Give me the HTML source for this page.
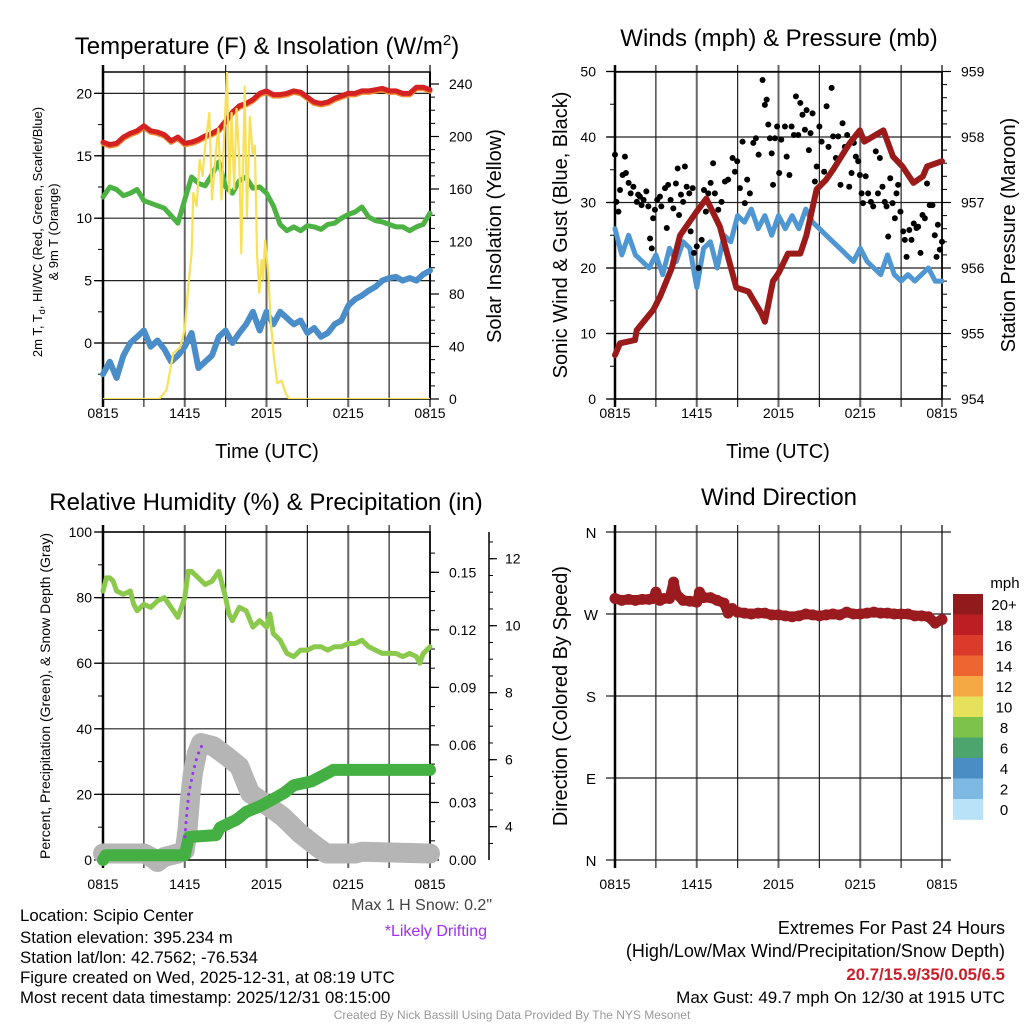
<!DOCTYPE html>
<html><head><meta charset="utf-8">
<style>
body{margin:0;background:#fff;}
svg{display:block;font-family:"Liberation Sans",Arial,sans-serif;}
</style></head>
<body>
<svg id="c" width="1024" height="1024" viewBox="0 0 1024 1024" xmlns="http://www.w3.org/2000/svg">
<defs>
<clipPath id="clip1"><rect x="103" y="72" width="327" height="327"/></clipPath>
</defs>
<text x="267" y="54" font-size="24" text-anchor="middle">Temperature (F) &amp; Insolation (W/m<tspan dy="-9" font-size="15">2</tspan><tspan dy="9">)</tspan></text>
<text x="779" y="46" font-size="24" text-anchor="middle">Winds (mph) &amp; Pressure (mb)</text>
<text x="266" y="510" font-size="24" text-anchor="middle">Relative Humidity (%) &amp; Precipitation (in)</text>
<text x="779" y="505" font-size="24" text-anchor="middle">Wind Direction</text>

<text transform="translate(42,232) rotate(-90)" font-size="13" text-anchor="middle">2m T, T<tspan font-size="9" dy="3">d</tspan><tspan dy="-3">, HI/WC (Red, Green, Scarlet/Blue)</tspan></text>
<text transform="translate(58,232) rotate(-90)" font-size="13" text-anchor="middle">&amp; 9m T (Orange)</text>
<text transform="translate(501,236) rotate(-90)" font-size="20" text-anchor="middle">Solar Insolation (Yellow)</text>
<text x="267" y="458" font-size="20" text-anchor="middle">Time (UTC)</text>

<text transform="translate(567,235) rotate(-90)" font-size="20" text-anchor="middle">Sonic Wind &amp; Gust (Blue, Black)</text>
<text transform="translate(1015,235) rotate(-90)" font-size="20" text-anchor="middle">Station Pressure (Maroon)</text>
<text x="778" y="458" font-size="20" text-anchor="middle">Time (UTC)</text>

<text transform="translate(50,696) rotate(-90)" font-size="14" text-anchor="middle">Percent, Precipitation (Green), &amp; Snow Depth (Gray)</text>
<text transform="translate(567,696) rotate(-90)" font-size="20" text-anchor="middle">Direction (Colored By Speed)</text>

<g font-size="16.8">
<text x="20" y="921">Location: Scipio Center</text>
<text x="20" y="943">Station elevation: 395.234 m</text>
<text x="20" y="963">Station lat/lon: 42.7562; -76.534</text>
<text x="20" y="983">Figure created on Wed, 2025-12-31, at 08:19 UTC</text>
<text x="20" y="1003">Most recent data timestamp: 2025/12/31 08:15:00</text>
</g>
<text x="492" y="910" font-size="16" fill="#444" text-anchor="end">Max 1 H Snow: 0.2"</text>
<text x="487" y="936" font-size="16" fill="#a030f0" text-anchor="end">*Likely Drifting</text>
<g text-anchor="end">
<text x="1005" y="934" font-size="18">Extremes For Past 24 Hours</text>
<text x="1005" y="957" font-size="18">(High/Low/Max Wind/Precipitation/Snow Depth)</text>
<text x="1005" y="980" font-size="16.8" fill="#c8202a" font-weight="bold">20.7/15.9/35/0.05/6.5</text>
<text x="1005" y="1003" font-size="17">Max Gust: 49.7 mph On 12/30 at 1915 UTC</text>
</g>
<text x="512" y="1019" font-size="12" fill="#999" text-anchor="middle">Created By Nick Bassill Using Data Provided By The NYS Mesonet</text>
<g id="layer"></g>
</svg>
<script>
// ===== Temperature panel data (hours since 0815 UTC) =====
const tHours = [0,0.5,1,1.5,2,2.5,3,3.5,4,4.5,5,5.5,6,6.5,7,7.5,8,8.5,9,9.5,10,10.5,11,11.5,12,12.5,13,13.5,14,14.5,15,15.5,16,16.5,17,17.5,18,18.5,19,19.5,20,20.5,21,21.5,22,22.5,23,23.5,24];
const tempRed = [16.1,15.9,16.0,16.5,16.8,17.0,17.4,17.0,16.9,16.7,16.2,16.5,16.0,16.1,16.3,16.6,16.8,17.1,17.8,18.5,19.0,19.2,19.5,20.0,20.2,19.9,19.9,20.0,20.2,20.1,19.7,19.3,19.2,19.3,19.6,19.8,20.0,20.0,20.2,20.2,20.3,20.4,20.2,20.2,20.0,20.0,20.5,20.5,20.3];
const tempGreen = [11.7,12.5,12.3,11.8,12.0,12.3,11.4,11.2,11.0,10.8,10.2,9.6,11.5,13.3,12.8,12.6,13.5,14.5,12.5,12.0,13.0,13.3,12.4,12.5,12.0,11.0,9.5,9.0,9.3,9.0,9.4,9.3,9.1,9.5,9.6,10.0,10.3,10.5,10.9,10.1,9.8,9.7,9.5,9.3,9.3,9.0,9.3,9.5,10.4];
const tempBlue = [-2.5,-1.5,-2.8,-1.0,0.0,0.5,1.0,-0.3,0.2,-0.5,-1.5,-1.0,-0.3,0.8,-2.0,-1.5,-1.0,0.5,1.0,0.0,0.8,1.5,2.5,1.0,2.5,1.5,2.5,2.0,1.5,1.8,0.8,1.2,0.5,0.8,1.5,1.8,3.0,3.5,3.8,4.2,4.5,5.0,5.2,5.3,5.0,5.2,5.0,5.5,5.8];
const solHours = [0,4.13,4.67,5.16,5.65,6.0,6.26,6.5,6.63,6.87,7.1,7.3,7.5,7.8,8.0,8.3,8.46,8.7,8.95,9.1,9.27,9.44,9.63,9.8,10.0,10.15,10.4,10.56,10.78,10.98,11.15,11.3,11.47,11.64,11.76,11.9,12.13,12.3,12.54,12.79,13.1,13.42,13.67,24];
const solar = [0,0,7,35,39,53,86,111,157,147,182,170,193,218,152,190,206,152,213,249,157,218,160,221,182,111,238,139,215,187,193,111,81,106,91,121,96,60,32,12,14,4,0,0];
const tempTicks = [0,5,10,15,20];
const solarTicks = [0,40,80,120,160,200,240];
const timeLabels = ["0815","1415","2015","0215","0815"];

// ===== Wind panel data =====
const wHours = tHours;
const windSpeed = [26,22,25,22,21,20,22,19,23,21,24,23,17,23,24,20,25,24,28,27,29,26,28,25,28,26,28,26,29,27,26,25,24,23,22,21,23,21,20,19,22,19,18,19,18,19,20,18,18];
const pHours = [0,0.37,1.47,1.59,2.81,3.3,4.17,4.78,5.99,6.7,7.7,8.9,9.8,10.76,11.0,11.6,12.0,12.7,13.6,14.05,14.8,15.5,16.0,17.2,17.97,18.3,19.7,20.4,21.1,21.9,22.6,22.9,24];
const pressure = [954.67,954.85,954.9,955.05,955.36,955.56,956.0,956.5,956.86,957.06,956.63,955.7,955.64,955.3,955.18,955.8,955.92,956.22,956.22,956.5,957.2,957.35,957.5,957.9,958.1,957.93,958.1,957.7,957.55,957.3,957.4,957.55,957.63];
const gustHours = [0,0.1,0.25,0.37,0.56,0.73,0.8,1,1.15,1.35,1.6,1.7,1.83,1.95,2.1,2.3,2.45,2.57,2.7,2.8,2.93,3.1,3.3,3.4,3.67,3.8,3.9,4.08,4.28,4.47,4.6,4.7,4.84,5,5.13,5.26,5.45,5.55,5.7,5.8,6,6.14,6.36,6.53,6.67,6.85,7.02,7.2,7.33,7.58,7.82,8.07,8.3,8.63,8.8,8.97,9.17,9.36,9.53,9.7,9.9,10.15,10.34,10.54,10.83,11,11.13,11.25,11.37,11.5,11.6,11.74,11.9,12.05,12.2,12.47,12.6,12.8,12.96,13.13,13.28,13.45,13.6,13.76,13.94,14.06,14.23,14.35,14.5,14.67,14.8,15,15.16,15.35,15.53,15.67,15.9,16.01,16.21,16.38,16.55,16.7,16.87,17.04,17.19,17.36,17.53,17.68,17.85,17.97,18.1,18.2,18.4,18.58,18.78,18.95,19.14,19.3,19.44,19.63,19.8,19.93,20.05,20.2,20.37,20.54,20.66,20.78,20.95,21.15,21.27,21.4,21.6,21.76,21.93,22.13,22.25,22.42,22.57,22.74,22.9,23.1,23.3,23.47,23.6,23.7,23.84,24];
const gusts = [37.3,30.1,28.6,31.9,34.2,37,34.5,33,31.4,32.4,30.1,31.2,30.9,29.6,30.4,31.7,29.4,24.5,23,27.6,28.9,30.4,30.9,29.4,32.2,26.1,32.7,30.4,29.1,32.9,35.2,28.1,31.2,30.1,35.5,32.4,31.4,25.6,32.2,22.3,23.3,20,24.3,31.9,28.6,31.4,33,36,31.4,28.9,30.1,33.2,33.5,36.8,34.7,36.3,32.2,39.3,29.9,33.5,31.4,39.1,39.8,37.3,48.7,44.9,45.7,41.9,39.8,37.5,32.7,39.8,41.6,34.5,39.6,41.6,37,34.2,41.6,40.3,46.2,40.3,45.2,43.4,41.1,44.1,38,40.6,43.6,33.2,35.5,41.6,39.3,34.7,44.7,38.5,47.5,40.1,36.8,40.1,32.7,42.1,38.5,40.3,32.4,34.5,39.1,37,36.3,34.2,31.4,29.9,34,31.4,30.1,29.4,37.8,31.4,36.8,32.4,30.1,29.4,24.8,33.7,29.9,27.6,31.4,32.7,28.6,25.6,24.3,21.7,25.8,24.3,26.8,26.1,26.3,22.3,28.1,27.6,32.9,29.6,29.6,25,21.7,26.6,22.8,24];
const windTicks = [0,10,20,30,40,50];
const pressTicks = [954,955,956,957,958,959];

// ===== RH / precip / snow panel data =====
const rhHours = [0,0.25,0.5,0.75,1,1.5,2,2.25,2.5,3,3.5,4,4.5,5,5.5,6,6.25,6.5,7,7.5,8,8.5,9,9.25,9.5,10,10.5,11,11.5,12,12.25,12.5,13,13.5,14,14.5,15,15.5,16,16.5,17,17.5,18,18.5,19,19.5,20,20.5,21,21.5,22,22.5,23,23.25,23.5,24];
const rh = [82,86,86,85,82,81,82,78,76,78,77,79,80,77,74,80,88,88,86,84,85,88,80,75,73,77,76,71,73,71,75,69,67,63,62,64,64,65,65,64,65,65,66,66,67,65,64,63,63,63,62,63,62,60,63,65];
const precHours = [0,0.2,6.0,6.3,8.3,8.6,9.8,10.5,11.5,12.3,13.3,14.0,15.3,16.4,16.9,24];
const precip = [0,0.0025,0.0025,0.012,0.013,0.017,0.021,0.025,0.028,0.031,0.035,0.039,0.041,0.045,0.047,0.047];
const snowHours = [0,1,3,3.5,4,4.5,5.5,6.0,6.2,6.4,6.6,6.9,7.2,8.1,9.1,10,10.8,11.5,12,13.2,14.45,15.7,16.4,17.5,18.5,19,24];
const snow = [3.2,3.2,3.2,3.1,2.95,3.1,3.2,3.3,3.9,4.9,5.6,6.2,6.5,6.4,6.1,5.8,5.0,4.8,4.65,4.3,3.8,3.4,3.2,3.2,3.2,3.25,3.2];
const driftHours = [6.0,6.15,6.3,6.45,6.6,6.85,7.1,7.3,7.5];
const drift = [3.7,4.4,5.0,5.3,5.6,6.0,6.3,6.45,6.5];
const rhTicks = [0,20,40,60,80,100];
const precTicks = [0,0.03,0.06,0.09,0.12,0.15];
const precLabels = ["0.00","0.03","0.06","0.09","0.12","0.15"];
const snowTicks = [4,6,8,10,12];

// ===== Wind direction data =====
const dirHours = [0,0.5,1,1.5,2,2.5,2.8,3.0,3.3,3.6,4,4.3,4.5,5,5.5,6,6.2,6.5,7,7.5,8.0,8.3,8.6,9,9.5,10,10.5,11,11.5,12,12.5,13,13.5,14,14.5,15,15.5,16,16.5,17,17.5,18,18.5,19,19.5,20,20.5,21,21.5,22,22.5,23,23.5,24];
const direction = [287,285,286,285,286,286,287,294,285,287,287,305,292,285,284,283,294,288,288,285,282,271,276,272,271,270,271,271,269,269,268,267,268,270,269,268,269,270,269,272,270,270,271,272,271,271,270,270,270,268,268,267,260,264];
const dirTicks = [360,270,180,90,0];
const dirLabels = ["N","W","S","E","N"];
const speedBins = ["20+","18","16","14","12","10","8","6","4","2","0"];
const binColors = ["#921a1d","#bd1e24","#dc3a2a","#ee6530","#f5a945","#e6e15a","#7dc24b","#4ca56d","#4a8dc4","#7db9e3","#b8e2f7"];

const NS = "http://www.w3.org/2000/svg";
const layer = document.getElementById("layer");
function el(tag, attrs, parent){
  const e = document.createElementNS(NS, tag);
  for (const k in attrs) e.setAttribute(k, attrs[k]);
  (parent||layer).appendChild(e);
  return e;
}
function mkX(x0,x1){ return h => x0 + h*(x1-x0)/24; }
function pathD(xs, ys, fx, fy){
  let d = "";
  for (let i=0;i<xs.length;i++) d += (i?"L":"M") + fx(xs[i]).toFixed(1) + " " + fy(ys[i]).toFixed(1);
  return d;
}

function frame(x0,y0,x1,y1,hGridVals,fy,name){
  const g = el("g",{});
  
  
  for (let k=0;k<=8;k++){
    const x = x0 + k*(x1-x0)/8;
    const ln = el("line",{x1:x,x2:x,y1:y0-7,y2:y1+8,stroke:(k%2? "#222":"#666"),"stroke-width":(k%2?1.2:2)},g);
    
    
  }
  hGridVals.forEach(v=>{
    const y = fy(v);
    const ln = el("line",{x1:x0-8,x2:x1,y1:y,y2:y,stroke:"#222","stroke-width":1.2},g);
    
    
  });
  const r = el("rect",{x:x0,y:y0,width:x1-x0,height:y1-y0,fill:"none",stroke:"#000","stroke-width":1.5},g);
  
  
  const l = el("line",{x1:x0,x2:x0,y1:y0-7,y2:y1+8,stroke:"#000","stroke-width":2.5},g);
  
  
  return g;
}
function xLabels(x0,x1,y,name){
  const fx = mkX(x0,x1);
  timeLabels.forEach((t,i)=>{
    const tx = el("text",{x:fx(i*6),y:y,"font-size":14,"text-anchor":"middle"});
    tx.textContent = t;
    
    
  });
}
function yLabels(vals,labels,fy,x,anchor,name){
  vals.forEach((v,i)=>{
    const tx = el("text",{x:x,y:fy(v)+5,"font-size":14,"text-anchor":anchor});
    tx.textContent = labels ? labels[i] : String(v);
    
    
  });
}
function ticks(x,vals,fy,len,w){
  vals.forEach(v=>{
    const t = el("line",{x1:x,x2:x+len,y1:fy(v),y2:fy(v),stroke:"#000","stroke-width":w||1});
    
    
  });
}
function range(a,b,s){ const r=[]; for(let v=a; v<=b+1e-9; v+=s) r.push(+v.toFixed(4)); return r; }
function line(xs,ys,fx,fy,color,w,name,extra){
  const p = el("path",Object.assign({d:pathD(xs,ys,fx,fy),fill:"none",stroke:color,"stroke-width":w,"stroke-linejoin":"round","stroke-linecap":"round"},extra||{}));
  
  
  return p;
}

// ---------- Panel 1 ----------
(function(){
  const x0=103,x1=430,y0=72,y1=399;
  const fx = mkX(x0,x1);
  const fyL = v => 343 - v*12.48;
  const fyR = v => 399 - v*1.3125;
  frame(x0,y0,x1,y1,tempTicks,fyL,"temperature-panel");
  ticks(x0,range(-2.5,20,2.5),fyL,-5);
  ticks(x0,tempTicks,fyL,-9,1.2);
  const ra = el("line",{x1:x1,x2:x1,y1:y0,y2:y1,stroke:"#000","stroke-width":2});
  
  
  ticks(x1,range(0,240,10),fyR,5);
  ticks(x1,solarTicks,fyR,9,1.2);
  yLabels(tempTicks,null,fyL,92,"end","temperature-axis");
  yLabels(solarTicks,null,fyR,449,"start","insolation-axis");
  xLabels(x0,x1,418,"temperature");
  line(tHours,tempBlue,fx,fyL,"#4a8dc8",6,"dewpoint-line");
  line(tHours,tempGreen,fx,fyL,"#4cb243",5,"windchill-line");
  line(tHours,tempRed,fx,v=>fyL(v)+1.5,"#f08a30",5,"temp-9m-line");
  line(tHours,tempRed,fx,fyL,"#d42222",5,"temp-2m-line");
  line(solHours,solar,fx,fyR,"#f8e05a",2.2,"insolation-line",{"clip-path":"url(#clip1)"});
})();

// ---------- Panel 2 ----------
(function(){
  const x0=615,x1=942,y0=72,y1=399;
  const fx = mkX(x0,x1);
  const fyL = v => 399 - v*6.55;
  const fyR = v => 399 - (v-954)*65.5;
  frame(x0,y0,x1,y1,windTicks,fyL,"wind-panel");
  ticks(x0,range(0,50,5),fyL,-5);
  ticks(x0,windTicks,fyL,-9,1.2);
  ticks(x1,range(954,959,0.2),fyR,5);
  ticks(x1,pressTicks,fyR,9,1.2);
  yLabels(windTicks,null,fyL,596,"end","wind-axis");
  yLabels(pressTicks,null,fyR,961,"start","pressure-axis");
  xLabels(x0,x1,418,"wind");
  line(wHours,windSpeed,fx,fyL,"#4f97d2",5,"wind-speed-line");
  gustHours.forEach((h,i)=>{
    const c = el("circle",{cx:fx(h),cy:fyL(gusts[i]),r:3,fill:"#000"});
    
    
  });
  line(pHours,pressure,fx,fyR,"#9b1b1b",6,"pressure-line");
})();

// ---------- Panel 3 ----------
(function(){
  const x0=103,x1=430,y0=532,y1=860;
  const fx = mkX(x0,x1);
  const fyL = v => 860 - v*3.28;
  const fyP = v => 860 - v*1918;
  const fyS = v => 960.7 - v*33.5;
  frame(x0,y0,x1,y1,rhTicks.slice(1),fyL,"humidity-panel");
  ticks(x0,range(0,100,10),fyL,-5);
  ticks(x0,rhTicks,fyL,-9,1.2);
  ticks(x1,range(0,0.165,0.01),fyP,5);
  ticks(x1,precTicks,fyP,9,1.2);
  yLabels(rhTicks,null,fyL,92,"end","humidity-axis");
  yLabels(precTicks,precLabels,fyP,449,"start","precip-axis");
  const oa = el("line",{x1:489,x2:489,y1:532,y2:860,stroke:"#000","stroke-width":1.5});
  
  
  ticks(489,range(3.5,12.5,0.5),fyS,4);
  ticks(489,snowTicks,fyS,8,1.2);
  yLabels(snowTicks,null,fyS,505,"start","snow-depth-axis");
  xLabels(x0,x1,889,"humidity");
  line(snowHours,snow,fx,fyS,"#b5b5b5",20,"snow-depth-line");
  line(rhHours,rh,fx,fyL,"#8bc94c",5,"humidity-line");
  line(precHours,precip,fx,fyP,"#44b044",12,"precipitation-line");
  line(driftHours,drift,fx,fyS,"#9b30f0",3,"drifting-line",{"stroke-dasharray":"0.1 7"});
})();

// ---------- Panel 4 ----------
(function(){
  const x0=615,x1=942,y0=532,y1=860;
  const fx = mkX(x0,x1);
  const fy = d => 860 - d*328/360;
  const g = el("g",{});
  
  
  for (let k=0;k<=8;k++){
    const x = x0 + k*(x1-x0)/8;
    const ln = el("line",{x1:x,x2:x,y1:y0-7,y2:y1+8,stroke:(k%2? "#222":"#666"),"stroke-width":(k%2?1.2:2)},g);
    
    
  }
  dirTicks.forEach(d=>{
    const ln = el("line",{x1:x0-9,x2:x1+9,y1:fy(d),y2:fy(d),stroke:"#222","stroke-width":1.2},g);
    
    
  });
  const la = el("line",{x1:x0,x2:x0,y1:y0-7,y2:y1+8,stroke:"#000","stroke-width":2.5},g);
  
  
  dirTicks.forEach((d,i)=>{
    const tx = el("text",{x:591,y:fy(d)+6,"font-size":15,"text-anchor":"middle"});
    tx.textContent = dirLabels[i];
    
    
  });
  xLabels(x0,x1,889,"direction");
  line(dirHours,direction,fx,fy,"#9a1b1f",10,"direction-trace");
  dirHours.forEach((h,i)=>{
    const c = el("circle",{cx:fx(h),cy:fy(direction[i]),r:5.5,fill:"#9a1b1f"});
    
    
  });
  const t = el("text",{x:1005,y:588,"font-size":15,"text-anchor":"middle"});
  t.textContent = "mph";
  
  
  speedBins.forEach((lab,i)=>{
    const y = 594 + i*20.5;
    const r = el("rect",{x:953,y:y,width:30,height:20.8,fill:binColors[i]});
    
    
    const tx = el("text",{x:1004,y:y+16,"font-size":15,"text-anchor":"middle"});
    tx.textContent = lab;
    
    
  });
})();
</script>
</body></html>
